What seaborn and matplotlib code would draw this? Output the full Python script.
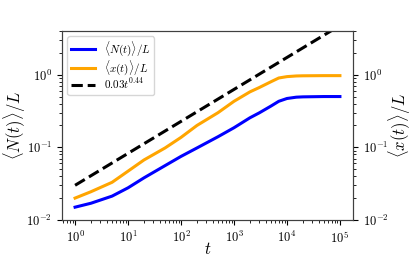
import matplotlib
matplotlib.use("Agg")
import matplotlib.pyplot as plt
import seaborn as sns
import pandas as pd

# values
t_vals = [1, 2, 5, 10, 20, 50, 100, 200, 500, 1000, 2000, 3000, 5000, 7000,
          1e4, 1.5e4, 2e4, 5e4, 1e5]
n_vals = [0.015, 0.0170, 0.0213, 0.0277, 0.038, 0.056, 0.075, 0.098, 0.14, 0.186,
          0.255, 0.298, 0.37, 0.43, 0.47, 0.49, 0.495, 0.50, 0.50]
x_vals = [0.020, 0.0245, 0.033, 0.047, 0.067, 0.098, 0.137, 0.20, 0.30, 0.43,
          0.58, 0.665, 0.80, 0.90, 0.94, 0.96, 0.965, 0.97, 0.97]
fit_t = [1, 1e5]
fit_vals = [0.03, 4.75]

labels = [r"$\langle N(t)\rangle/L$", r"$\langle x(t)\rangle/L$", r"$0.03t^{0.44}$"]

plt.rcParams["mathtext.fontset"] = "cm"
plt.rcParams["font.family"] = "serif"
plt.rcParams["font.serif"] = ["cmr10", "DejaVu Serif"]
plt.rcParams["axes.formatter.use_mathtext"] = True

df = pd.DataFrame({"t": t_vals, "N": n_vals, "x": x_vals})
fit = pd.DataFrame({"t": fit_t, "v": fit_vals})

fig = plt.figure(figsize=(4.15, 2.6), dpi=100)
ax = fig.add_axes([0.149, 0.154, 0.702, 0.727])

sns.lineplot(data=df, x="t", y="N", ax=ax, color="blue", lw=2.2, label=labels[0])
sns.lineplot(data=df, x="t", y="x", ax=ax, color="orange", lw=2.2, label=labels[1])
sns.lineplot(data=fit, x="t", y="v", ax=ax, color="black", lw=2.2, ls="--",
             label=labels[2])

ax.set_xscale("log")
ax.set_yscale("log")
ax.set_ylim(0.01, 4)
ax.set_xlabel(r"$t$", fontsize=12, labelpad=-3)
ax.set_ylabel(r"$\langle N(t)\rangle/L$", fontsize=12, labelpad=-1)
ax.tick_params(labelsize=9)
ax.legend(loc="upper left", fontsize=8, labelspacing=0.0, handlelength=2.2,
          borderpad=0.3)

ax2 = ax.twinx()
ax2.set_yscale("log")
ax2.set_ylim(0.01, 4)
ax2.set_ylabel(r"$\langle x(t)\rangle/L$", fontsize=12, labelpad=-1)
ax2.tick_params(labelsize=9)

for a in (ax, ax2):
    for s in a.spines.values():
        s.set_color("0.25")

fig.savefig("out.png", dpi=100)
